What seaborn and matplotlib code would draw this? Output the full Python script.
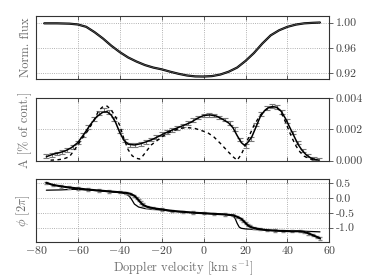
import numpy as np
import pandas as pd
import seaborn as sns
import matplotlib
matplotlib.use("Agg")
import matplotlib.pyplot as plt

# --- data ---
vel_flux = [-76, -70, -64, -60, -56, -52, -48, -44, -40, -36, -32, -28, -24, -20, -16,
            -12, -8, -4, 0, 4, 8, 12, 16, 20, 24, 28, 32, 36, 40, 44, 48, 52, 55.5]
flux = [0.9990, 0.9990, 0.9985, 0.9972, 0.9935, 0.9850, 0.9750, 0.9635, 0.9535, 0.9450,
        0.9385, 0.9330, 0.9290, 0.9262, 0.9225, 0.9192, 0.9165, 0.9150, 0.9148, 0.9155,
        0.9180, 0.9225, 0.9290, 0.9395, 0.9520, 0.9670, 0.9800, 0.9880, 0.9935, 0.9970,
        0.9990, 0.9998, 1.0003]

vel_amp_obs = [-75, -72.5, -70, -67.5, -65, -62.5, -60, -57.5, -55, -52.5, -50, -47.5, -45,
               -42.5, -40, -37.5, -35, -32.5, -30, -27.5, -25, -22.5, -20, -17.5, -15, -12.5,
               -10, -7.5, -5, -2.5, 0, 2.5, 5, 7.5, 10, 12.5, 15, 17.5, 20, 22.5, 25, 27.5,
               30, 32.5, 35, 37.5, 40, 42.5, 45, 47.5, 50, 52.5, 55]
amp_obs = [0.00028, 0.00038, 0.00045, 0.00055, 0.00068, 0.00085, 0.00115, 0.00165, 0.00215,
           0.00265, 0.00305, 0.00322, 0.00310, 0.00265, 0.00190, 0.00128, 0.00100, 0.00098,
           0.00105, 0.00118, 0.00135, 0.00152, 0.00170, 0.00182, 0.00195, 0.00210, 0.00225,
           0.00240, 0.00258, 0.00275, 0.00288, 0.00292, 0.00288, 0.00275, 0.00262, 0.00240,
           0.00200, 0.00135, 0.00095, 0.00140, 0.00230, 0.00300, 0.00335, 0.00348, 0.00340,
           0.00310, 0.00255, 0.00180, 0.00115, 0.00065, 0.00032, 0.00014, 0.00005]
amp_err = 0.00012

vel_amp_fit = [-75, -72, -69, -66, -63, -60, -57, -54, -51, -48, -46, -44, -42, -40, -38, -36,
               -33, -30, -27, -24, -21, -18, -15, -12, -9, -6, -3, 0, 3, 6, 9, 12, 14, 16, 18,
               19.5, 21, 23, 25, 27, 29, 31, 33, 35, 37, 39, 41, 43, 45, 47, 49, 51, 53, 55]
amp_fit = [0.00025, 0.00040, 0.00050, 0.00062, 0.00083, 0.00115, 0.00170, 0.00230, 0.00280,
           0.00310, 0.00312, 0.00290, 0.00245, 0.00180, 0.00130, 0.00105, 0.00100, 0.00108,
           0.00122, 0.00138, 0.00158, 0.00178, 0.00195, 0.00212, 0.00228, 0.00245, 0.00270,
           0.00288, 0.00292, 0.00285, 0.00265, 0.00240, 0.00210, 0.00160, 0.00115, 0.00098,
           0.00115, 0.00152, 0.00215, 0.00280, 0.00318, 0.00338, 0.00345, 0.00340, 0.00315,
           0.00270, 0.00215, 0.00160, 0.00105, 0.00065, 0.00036, 0.00018, 0.00008, 0.00003]

vel_amp_alt = [-73, -70, -67, -64, -61, -58, -55, -52, -50, -48, -46, -44, -42, -40, -38, -36,
               -34, -32, -30.5, -29, -27, -25, -22, -19, -16, -13, -10, -7, -4, -1, 2, 5, 8,
               11, 14, 16, 18, 20, 22, 24, 27, 30, 32, 34, 36, 38, 40, 42, 44, 46, 48, 51, 54]
amp_alt = [0.00003, 0.00005, 0.00010, 0.00025, 0.00080, 0.00140, 0.00195, 0.00265, 0.00320,
           0.00345, 0.00348, 0.00322, 0.00280, 0.00225, 0.00140, 0.00070, 0.00030, 0.00015,
           0.00010, 0.00030, 0.00065, 0.00100, 0.00130, 0.00160, 0.00183, 0.00198, 0.00208,
           0.00210, 0.00205, 0.00192, 0.00178, 0.00150, 0.00110, 0.00067, 0.00025, 0.00003,
           0.00040, 0.00100, 0.00165, 0.00225, 0.00290, 0.00330, 0.00342, 0.00345, 0.00325,
           0.00280, 0.00215, 0.00150, 0.00095, 0.00055, 0.00028, 0.00010, 0.00003]

vel_phase_obs = [-75, -72, -68, -64, -60, -55, -50, -45, -40, -37, -35, -33, -32, -31, -30,
                 -29, -27, -24, -20, -15, -10, -5, 0, 5, 10, 14, 16, 18, 19, 20, 21, 22, 24,
                 27, 30, 34, 38, 42, 46, 48, 50, 52, 54, 55.5]
phase_obs = [0.52, 0.45, 0.40, 0.36, 0.33, 0.29, 0.26, 0.23, 0.20, 0.18, 0.15, 0.08, 0.01,
             -0.07, -0.15, -0.22, -0.29, -0.34, -0.38, -0.43, -0.46, -0.49, -0.51, -0.53,
             -0.55, -0.58, -0.63, -0.70, -0.77, -0.84, -0.91, -0.96, -1.01, -1.05, -1.08,
             -1.10, -1.11, -1.12, -1.12, -1.14, -1.19, -1.25, -1.31, -1.36]

vel_phase_fit = [-75, -68, -62, -56, -50, -45, -40, -38, -36, -35, -34, -33, -31, -28, -24,
                 -20, -15, -10, -5, 0, 5, 10, 13, 14, 15, 16, 17, 18, 20, 24, 30, 36, 42, 48,
                 52, 55.5]
phase_fit = [0.27, 0.28, 0.30, 0.28, 0.25, 0.22, 0.19, 0.16, 0.10, 0.03, -0.08, -0.20, -0.30,
             -0.35, -0.38, -0.40, -0.44, -0.47, -0.49, -0.51, -0.53, -0.55, -0.57, -0.60,
             -0.68, -0.85, -0.98, -1.02, -1.04, -1.06, -1.08, -1.10, -1.11, -1.12, -1.13,
             -1.14]

xticks = [-80, -60, -40, -20, 0, 20, 40, 60]

sns.set_style("ticks")
plt.rcParams['font.family'] = 'serif'
plt.rcParams['font.serif'] = ['cmr10', 'DejaVu Serif']
plt.rcParams['mathtext.fontset'] = 'cm'
plt.rcParams['axes.formatter.use_mathtext'] = True
plt.rcParams['axes.unicode_minus'] = True

grey = '#6e6e6e'
fig = plt.figure(figsize=(3.66, 2.76), dpi=100)
left, width = 0.098, 0.802
ax1 = fig.add_axes([left, 0.714, width, 0.228])
ax2 = fig.add_axes([left, 0.418, width, 0.227])
ax3 = fig.add_axes([left, 0.125, width, 0.225])

# --- flux ---
sns.lineplot(x=vel_flux, y=flux, ax=ax1, color='black', lw=1.6)
sns.lineplot(x=vel_flux, y=flux, ax=ax1, color='#555555', lw=0.6)
ax1.set_ylim(0.911, 1.0106)
ax1.set_yticks([0.92, 0.96, 1.00])
ax1.set_yticklabels(['0.92', '0.96', '1.00'])
ax1.set_ylabel('Norm. flux')

# --- amplitude ---
ax2.errorbar(vel_amp_obs, amp_obs, yerr=amp_err, fmt='none', ecolor='#7a7a7a',
             elinewidth=0.8, capsize=2, capthick=0.8, zorder=2)
sns.lineplot(x=vel_amp_fit, y=amp_fit, ax=ax2, color='black', lw=1.1, zorder=3)
sns.lineplot(x=vel_amp_alt, y=amp_alt, ax=ax2, color='black', lw=1.0, zorder=3)
ax2.lines[-1].set_dashes([2.5, 2.5])
ax2.set_ylim(0, 0.004)
ax2.set_yticks([0.000, 0.002, 0.004])
ax2.set_yticklabels(['0.000', '0.002', '0.004'])
ax2.set_ylabel('A [% of cont.]')

# --- phase ---
sns.lineplot(x=vel_phase_fit, y=phase_fit, ax=ax3, color='black', lw=0.9)
ax3.errorbar(vel_phase_obs, phase_obs, yerr=0.04, fmt='none', ecolor='#8a8a8a',
             elinewidth=0.7, capsize=1.2, zorder=2)
sns.lineplot(x=vel_phase_obs, y=phase_obs, ax=ax3, color='black', lw=1.5, zorder=3)
ax3.set_ylim(-1.466, 0.635)
ax3.set_yticks([0.5, 0.0, -0.5, -1.0])
ax3.set_yticklabels(['0.5', '0.0', '-0.5', '-1.0'])
ax3.set_ylabel(r'$\phi$ [$2\pi$]')
ax3.set_xlabel(r'Doppler velocity [km s$^{-1}$]', color=grey, fontsize=9)

for ax in (ax1, ax2, ax3):
    ax.set_xlim(-80, 60)
    ax.set_xticks(xticks)
    ax.grid(True, ls=':', lw=0.6, color='#999999')
    ax.yaxis.tick_right()
    ax.tick_params(axis='y', direction='out', length=3, width=0.6, labelsize=8.5,
                   labelcolor='#444444', color='#444444', pad=1.5)
    ax.tick_params(axis='x', direction='in', length=3, width=0.6, top=True,
                   labelsize=8.5, labelcolor='#444444', color='#444444', pad=2)
    ax.yaxis.label.set_color(grey)
    ax.yaxis.label.set_fontsize(9)
    ax.yaxis.set_label_position('left')
    ax.yaxis.labelpad = 3
    for s in ax.spines.values():
        s.set_color('#333333')
        s.set_linewidth(0.8)

ax1.tick_params(axis='x', labelbottom=False)
ax2.tick_params(axis='x', labelbottom=False)
ax3.xaxis.set_label_coords(0.5, -0.27)

fig.savefig('out.png', dpi=100)
